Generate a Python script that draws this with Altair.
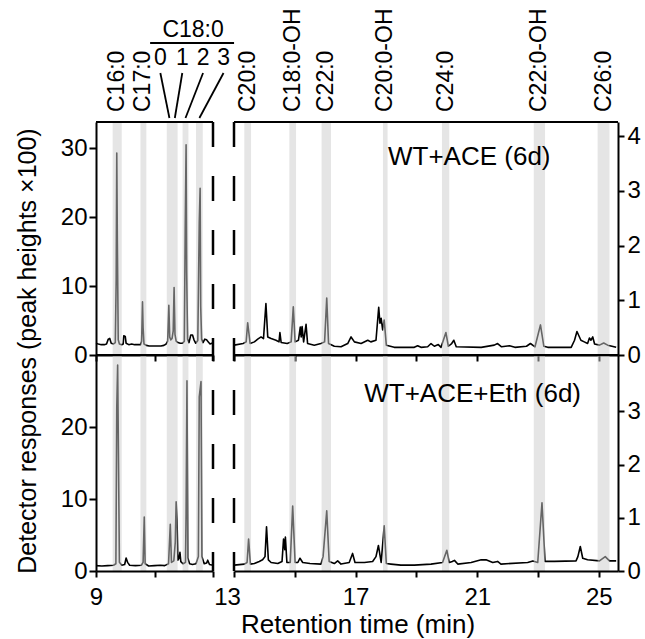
import altair as alt
import pandas as pd

FONT = "Liberation Sans"

# ---------------------------------------------------------------
# Chromatogram traces: (retention time [min], detector response)
# Left panels use the x100 scale on the left axis, right panels the
# right-hand axis.
# ---------------------------------------------------------------
ace_early = [
    (9.00, 1.7), (9.08, 1.6), (9.18, 1.5), (9.28, 1.5), (9.36, 1.6),
    (9.42, 2.3), (9.47, 2.4), (9.52, 1.7), (9.60, 1.6), (9.66, 1.8),
    (9.69, 10.8), (9.71, 29.3), (9.73, 16.5), (9.76, 2.2), (9.80, 1.6),
    (9.88, 1.5), (9.93, 1.6), (9.95, 2.8), (10.00, 2.7), (10.03, 1.7),
    (10.12, 1.5), (10.22, 1.6), (10.32, 1.5), (10.42, 1.5), (10.52, 1.5),
    (10.56, 2.0), (10.59, 7.7), (10.61, 4.0), (10.64, 1.6), (10.72, 1.4),
    (10.82, 1.3), (10.92, 1.3), (11.02, 1.3), (11.12, 1.3), (11.22, 1.3),
    (11.32, 1.4), (11.40, 1.6), (11.45, 2.0), (11.49, 7.2), (11.52, 2.6),
    (11.56, 2.2), (11.60, 2.4), (11.64, 3.5), (11.67, 9.8), (11.70, 3.0),
    (11.74, 2.0), (11.80, 1.8), (11.88, 1.7), (11.96, 1.7), (12.02, 2.0),
    (12.05, 18.1), (12.08, 30.5), (12.10, 12.0), (12.13, 2.3), (12.18, 1.8),
    (12.24, 2.9), (12.30, 2.9), (12.35, 2.2), (12.41, 1.7), (12.48, 2.1),
    (12.53, 19.1), (12.56, 24.2), (12.58, 7.0), (12.61, 2.3), (12.66, 1.8),
    (12.72, 2.3), (12.78, 2.2), (12.84, 1.9), (12.90, 1.6), (12.96, 1.7),
    (13.00, 1.6),
]

ace_late = [
    (13.01, 0.18), (13.30, 0.21), (13.40, 0.24), (13.45, 0.59), (13.53, 0.21),
    (13.67, 0.24), (13.78, 0.29), (13.89, 0.33), (13.97, 0.30), (14.05, 0.94),
    (14.11, 0.33), (14.22, 0.30), (14.38, 0.27), (14.48, 0.24), (14.51, 0.41),
    (14.55, 0.23), (14.75, 0.21), (14.88, 0.24), (14.95, 0.88), (15.01, 0.24),
    (15.12, 0.27), (15.18, 0.51), (15.21, 0.33), (15.24, 0.52), (15.29, 0.24),
    (15.37, 0.56), (15.42, 0.21), (15.64, 0.18), (15.86, 0.21), (15.98, 0.24),
    (16.05, 1.04), (16.11, 0.21), (16.30, 0.16), (16.52, 0.15), (16.74, 0.21),
    (16.85, 0.33), (16.96, 0.24), (17.18, 0.21), (17.40, 0.27), (17.50, 0.24),
    (17.67, 0.27), (17.76, 0.87), (17.80, 0.58), (17.84, 0.67), (17.89, 0.46),
    (17.94, 0.64), (18.01, 0.18), (18.27, 0.14), (18.49, 0.14), (18.93, 0.14),
    (19.04, 0.17), (19.15, 0.14), (19.37, 0.15), (19.48, 0.21), (19.59, 0.16),
    (19.72, 0.19), (19.81, 0.14), (19.97, 0.41), (20.05, 0.16), (20.16, 0.21),
    (20.23, 0.27), (20.31, 0.15), (21.13, 0.14), (21.56, 0.18), (21.67, 0.21),
    (21.80, 0.15), (22.06, 0.17), (22.24, 0.14), (22.62, 0.16), (22.75, 0.21),
    (22.90, 0.15), (23.08, 0.55), (23.19, 0.16), (23.32, 0.14), (24.09, 0.14),
    (24.20, 0.27), (24.28, 0.43), (24.41, 0.27), (24.52, 0.24), (24.63, 0.21),
    (24.69, 0.31), (24.74, 0.27), (24.80, 0.33), (24.86, 0.20), (25.02, 0.18),
    (25.16, 0.22), (25.29, 0.18), (25.57, 0.14),
]

eth_early = [
    (9.00, 0.75), (9.20, 0.70), (9.40, 0.75), (9.60, 0.80), (9.68, 1.0),
    (9.71, 22.6), (9.74, 28.6), (9.77, 15.0), (9.80, 1.2), (9.88, 0.8),
    (9.98, 0.9), (10.03, 1.8), (10.08, 1.2), (10.15, 0.8), (10.35, 0.75),
    (10.55, 0.8), (10.61, 1.2), (10.65, 7.5), (10.68, 1.0), (10.80, 0.7),
    (11.00, 0.75), (11.20, 0.8), (11.35, 0.75), (11.48, 1.0), (11.54, 6.5),
    (11.58, 1.2), (11.66, 1.4), (11.71, 4.0), (11.74, 9.6), (11.77, 7.1),
    (11.80, 1.5), (11.84, 1.8), (11.87, 2.6), (11.90, 1.3), (11.98, 1.0),
    (12.06, 1.2), (12.08, 8.0), (12.11, 26.4), (12.14, 1.8), (12.20, 1.0),
    (12.30, 0.9), (12.42, 1.0), (12.50, 2.0), (12.53, 24.2), (12.59, 26.3),
    (12.62, 2.0), (12.70, 1.0), (12.78, 1.1), (12.82, 1.5), (12.88, 0.9),
    (13.00, 0.8),
]

eth_late = [
    (13.01, 0.11), (13.34, 0.13), (13.43, 0.16), (13.48, 0.60), (13.54, 0.13),
    (13.67, 0.14), (13.83, 0.18), (13.94, 0.21), (14.02, 0.27), (14.07, 0.83),
    (14.13, 0.21), (14.22, 0.16), (14.44, 0.14), (14.58, 0.18), (14.63, 0.60),
    (14.67, 0.40), (14.69, 0.64), (14.74, 0.16), (14.85, 0.16), (14.93, 1.22),
    (15.01, 0.16), (15.10, 0.16), (15.17, 0.24), (15.26, 0.16), (15.50, 0.14),
    (15.86, 0.13), (15.93, 0.27), (16.05, 1.13), (16.13, 0.18), (16.30, 0.14),
    (16.41, 0.19), (16.52, 0.13), (16.79, 0.16), (16.90, 0.33), (16.98, 0.16),
    (17.29, 0.16), (17.56, 0.18), (17.67, 0.27), (17.75, 0.48), (17.84, 0.16),
    (17.94, 0.85), (18.01, 0.14), (18.16, 0.13), (18.49, 0.11), (18.93, 0.11),
    (19.48, 0.13), (19.86, 0.16), (20.00, 0.39), (20.08, 0.16), (20.18, 0.18),
    (20.25, 0.20), (20.36, 0.13), (20.80, 0.16), (21.13, 0.21), (21.29, 0.21),
    (21.51, 0.16), (21.67, 0.18), (21.78, 0.13), (22.66, 0.16), (22.83, 0.19),
    (22.99, 0.16), (23.13, 1.28), (23.23, 0.18), (23.54, 0.18), (24.25, 0.19),
    (24.31, 0.27), (24.39, 0.46), (24.47, 0.24), (24.63, 0.21), (25.02, 0.19),
    (25.21, 0.27), (25.35, 0.19), (25.57, 0.19),
]

# Shaded retention windows of the identified compounds
early_lo = [9.57, 10.52, 11.42, 11.60, 11.96, 12.42]
early_hi = [9.88, 10.72, 11.60, 11.79, 12.16, 12.65]
early_names = ["C16:0", "C17:0", "", "", "", ""]

late_lo = [13.34, 14.82, 15.88, 17.90, 19.84, 22.86, 24.96]
late_hi = [13.56, 15.04, 16.19, 18.05, 20.08, 23.23, 25.35]
late_names = ["C20:0", "C18:0-OH", "C22:0", "C20:0-OH", "C24:0", "C22:0-OH", "C26:0"]

# C18:0 isomer tags (0-3) and where their tags sit on the time axis
isomer_tags = ["0", "1", "2", "3"]
isomer_tag_time = [11.20, 11.95, 12.66, 13.36]

EARLY = [9, 13]
LATE = [13, 25.63]


def trace_df(points):
    return pd.DataFrame(points, columns=["time", "resp"])


def band_df(lo, hi, names):
    df = pd.DataFrame({"lo": lo, "hi": hi, "name": names})
    df["mid"] = (df["lo"] + df["hi"]) / 2
    return df


one_row = pd.DataFrame({"k": [0]})


def panel(points, bands, xdom, ydom, w, h, xaxis, yaxis, dash_offset, extras):
    xs = alt.Scale(domain=xdom, nice=False, zero=False)
    ys = alt.Scale(domain=ydom, nice=False, zero=False)
    line = alt.Chart(trace_df(points)).mark_line(
        color="black", strokeWidth=1.6, strokeJoin="round"
    ).encode(
        x=alt.X("time:Q", scale=xs, axis=xaxis),
        y=alt.Y("resp:Q", scale=ys, axis=yaxis),
    )
    shade = alt.Chart(bands).mark_rect(color="#cccccc", opacity=0.5).encode(
        x=alt.X("lo:Q", title=None), x2="hi:Q"
    )
    top_edge = alt.Chart(one_row).mark_rule(color="black", strokeWidth=2).encode(
        x=alt.datum(xdom[0]), x2=alt.datum(xdom[1]), y=alt.value(0)
    )
    # broken-axis edge at 13 min
    brk = alt.Chart(one_row).mark_rule(
        color="black", strokeWidth=2.5, strokeDash=[25, 29], strokeDashOffset=dash_offset
    ).encode(x=alt.datum(13))
    return alt.layer(line, shade, top_edge, brk, *extras).properties(width=w, height=h)


def names_layer(bands):
    return alt.Chart(bands).transform_filter("datum.name != ''").mark_text(
        angle=270, align="left", baseline="middle", fontSize=23
    ).encode(x=alt.X("mid:Q", title=None), y=alt.value(-10), text="name:N")


common = dict(title=None, grid=False, zindex=1, labelFlush=False)

ax_x_early_top = alt.Axis(values=[9, 10, 11, 12, 13], labels=False, tickSize=6, **common)
ax_x_late_top = alt.Axis(values=list(range(13, 26)), labels=False, tickSize=6, **common)
ax_x_early_bot = alt.Axis(
    values=[9, 10, 11, 12, 13], tickSize=6, labelPadding=8,
    labelExpr="datum.value == 9 ? datum.label : ''", **common
)
ax_x_late_bot = alt.Axis(
    values=list(range(13, 26)), tickSize=6, labelPadding=8,
    labelExpr="datum.value % 4 == 1 ? datum.label : ''",
    labelOffset={"condition": {"test": "datum.value == 13", "value": -7}, "value": 0},
    **common
)
ax_y_tl = alt.Axis(orient="left", values=[0, 10, 20, 30], tickSize=7, labelPadding=2, **common)
ax_y_bl = alt.Axis(orient="left", values=[0, 10, 20], tickSize=7, labelPadding=2, **common)
ax_y_tr = alt.Axis(orient="right", values=[0, 1, 2, 3, 4], tickSize=6, labelPadding=3, **common)
ax_y_br = alt.Axis(orient="right", values=[0, 1, 2, 3], tickSize=6, labelPadding=3, **common)

early_bands = band_df(early_lo, early_hi, early_names)
late_bands = band_df(late_lo, late_hi, late_names)

# C18:0 isomer header with leader lines to the shaded windows
iso = pd.DataFrame({
    "tag": isomer_tags,
    "at": isomer_tag_time,
    "peak": list(early_bands["mid"][2:6]),
})
c18_title = alt.Chart(one_row).mark_text(fontSize=23, baseline="middle").encode(
    x=alt.datum(12.32), y=alt.value(-92), text=alt.value("C18:0")
)
c18_bar = alt.Chart(one_row).mark_rule(color="black", strokeWidth=2).encode(
    x=alt.datum(10.85), x2=alt.datum(13.72), y=alt.value(-79)
)
c18_tags = alt.Chart(iso).mark_text(fontSize=23, baseline="middle").encode(
    x=alt.X("at:Q", title=None), y=alt.value(-64), text="tag:N"
)
c18_leads = alt.Chart(iso).mark_rule(color="black", strokeWidth=1.8).encode(
    x=alt.X("at:Q", title=None), x2="peak:Q", y=alt.value(-49), y2=alt.value(-4)
)
y_title = alt.Chart(one_row).mark_text(
    angle=270, align="center", baseline="middle", fontSize=25
).encode(
    x=alt.value(-68), y=alt.value(229),
    text=alt.value("Detector responses (peak heights \u00d7100)")
)

tl = panel(ace_early, early_bands, EARLY, [0, 33.8], 117, 233,
           ax_x_early_top, ax_y_tl, 0,
           [names_layer(early_bands), c18_title, c18_bar, c18_tags, c18_leads, y_title])

tr_label = alt.Chart(one_row).mark_text(align="left", baseline="middle", fontSize=26).encode(
    x=alt.value(154), y=alt.value(35), text=alt.value("WT+ACE (6d)")
)
tr = panel(ace_late, late_bands, LATE, [0, 4.26], 384, 233,
           ax_x_late_top, ax_y_tr, 0, [names_layer(late_bands), tr_label])

bl = panel(eth_early, early_bands, EARLY, [0, 30], 117, 216,
           ax_x_early_bot, ax_y_bl, 19, [])

br_label = alt.Chart(one_row).mark_text(align="right", baseline="middle", fontSize=26).encode(
    x=alt.value(347), y=alt.value(39), text=alt.value("WT+ACE+Eth (6d)")
)
x_title = alt.Chart(one_row).mark_text(align="center", baseline="middle", fontSize=26).encode(
    x=alt.value(124), y=alt.value(270), text=alt.value("Retention time (min)")
)
br = panel(eth_late, late_bands, LATE, [0, 4.06], 384, 216,
           ax_x_late_bot, ax_y_br, 19, [br_label, x_title])

# 2x2 grid: plot areas placed flush, break gap between columns, no gap between rows
chart = alt.concat(
    tl, tr, bl, br, columns=2, spacing={"row": 0, "column": 21}, bounds="flush"
).properties(
    padding={"left": 15, "top": 8, "right": 0, "bottom": 0},
    background="white",
).configure_view(
    strokeWidth=0
).configure_axis(
    labelFont=FONT, labelFontSize=24, labelColor="black",
    domainColor="black", domainWidth=2, tickColor="black", tickWidth=2,
).configure_text(
    font=FONT, color="black"
)

chart.save("out.html", embed_options={"renderer": "svg", "actions": False})
